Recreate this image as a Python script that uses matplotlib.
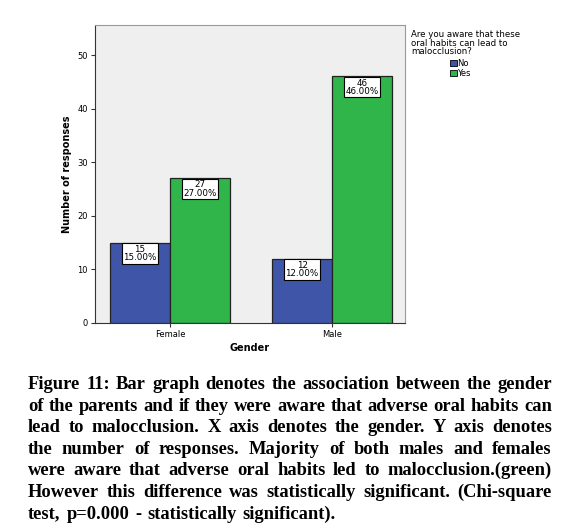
import matplotlib
matplotlib.use("Agg")
import matplotlib.pyplot as plt
import numpy as np
from matplotlib.patches import Patch

genders = ["Female", "Male"]
answers = ["No", "Yes"]
counts_no = [15, 12]
counts_yes = [27, 46]
pct_no = ["15.00%", "12.00%"]
pct_yes = ["27.00%", "46.00%"]
yticks = [0, 10, 20, 30, 40, 50]
legend_title = "Are you aware that these\noral habits can lead to\nmalocclusion?"
caption_lines = [
    "Figure 11: Bar graph denotes the association between the gender",
    "of the parents and if they were aware that adverse oral habits can",
    "lead to malocclusion. X axis denotes the gender. Y axis denotes",
    "the number of responses. Majority of both males and females",
    "were aware that adverse oral habits led to malocclusion.(green)",
    "However this difference was statistically significant. (Chi-square",
    "test, p=0.000 - statistically significant).",
]

blue = "#3F56A8"
green = "#2FB54A"
W, H = 583, 527

fig = plt.figure(figsize=(W / 100, H / 100), dpi=100)
ax = fig.add_axes([95 / W, 1 - 323 / H, 310 / W, 298 / H])
ax.set_facecolor("#EFEFEF")

x = np.arange(len(genders))
bw = 0.37
b1 = ax.bar(x - bw / 2, counts_no, bw, color=blue, edgecolor="#222222", linewidth=0.9)
b2 = ax.bar(x + bw / 2, counts_yes, bw, color=green, edgecolor="#222222", linewidth=0.9)

for bars, vals, pcts in [(b1, counts_no, pct_no), (b2, counts_yes, pct_yes)]:
    for r, v, p in zip(bars, vals, pcts):
        ax.annotate(f"{v}\n{p}", (r.get_x() + r.get_width() / 2, v),
                    xytext=(0, -1.5), textcoords="offset points",
                    ha="center", va="top", fontsize=6.3, linespacing=0.95,
                    bbox=dict(boxstyle="square,pad=0.15", fc="white", ec="black", lw=0.8))

ax.set_xlim(-0.463, 1.45)
ax.set_ylim(0, 55.6)
ax.set_yticks(yticks)
ax.set_xticks(x)
ax.set_xticklabels(genders)
ax.tick_params(labelsize=6, length=3, width=0.8, color="#333333", pad=2)
for s in ["top", "right"]:
    ax.spines[s].set_color("#999999")
for s in ["left", "bottom"]:
    ax.spines[s].set_color("#333333")
ax.set_ylabel("Number of responses", fontsize=7, fontweight="bold", labelpad=4)
ax.set_xlabel("Gender", fontsize=7, fontweight="bold", labelpad=3)

fig.text(411 / W, 1 - 30 / H, legend_title, fontsize=6.2, va="top", ha="left", linespacing=0.95)
handles = [Patch(facecolor=blue, edgecolor="black", lw=0.6),
           Patch(facecolor=green, edgecolor="black", lw=0.6)]
fig.legend(handles, answers, loc="upper left", bbox_to_anchor=(450 / W, 1 - 59 / H),
           frameon=False, fontsize=6, handlelength=0.8, handleheight=0.8,
           handletextpad=0.1, labelspacing=0.1, borderpad=0, borderaxespad=0)

# justified caption
renderer = fig.canvas.get_renderer()
left, right = 28, 552
y0 = 389
step = 21.6
cap_font = dict(family="Liberation Serif", fontweight="bold", fontsize=13.3)


def width_of(s):
    t = fig.text(0, 0, s, **cap_font)
    w = t.get_window_extent(renderer).width
    t.remove()
    return w


space = width_of("a a") - 2 * width_of("a")

for i, line in enumerate(caption_lines):
    words = line.split(" ")
    texts = [fig.text(0, 0, w, ha="left", va="baseline", **cap_font) for w in words]
    widths = [t.get_window_extent(renderer).width for t in texts]
    y = 1 - (y0 + i * step) / H
    if i < len(caption_lines) - 1:
        gap = (right - left - sum(widths)) / (len(words) - 1)
    else:
        gap = space * 1.3
    xp = left
    for t, w in zip(texts, widths):
        t.set_position((xp / W, y))
        xp += w + gap

fig.savefig("out.png", dpi=100)
